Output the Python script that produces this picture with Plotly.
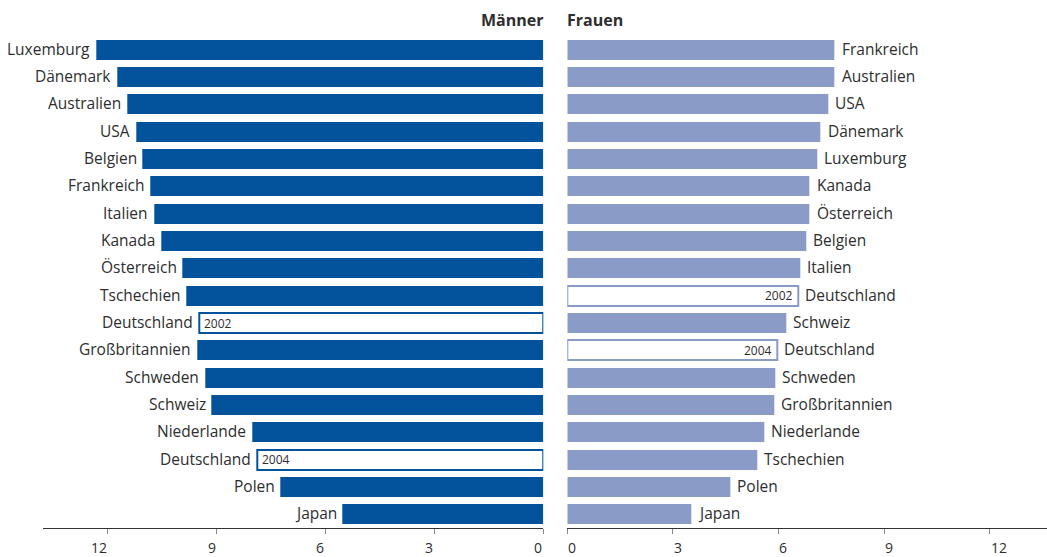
import plotly.graph_objects as go

# Männer (left panel), top to bottom
men_countries = ["Luxemburg", "Dänemark", "Australien", "USA", "Belgien", "Frankreich",
                 "Italien", "Kanada", "Österreich", "Tschechien", "Deutschland",
                 "Großbritannien", "Schweden", "Schweiz", "Niederlande", "Deutschland",
                 "Polen", "Japan"]
men_values = [12.32, 11.74, 11.47, 11.22, 11.03, 10.83, 10.72, 10.53, 9.93, 9.82, 9.47,
              9.54, 9.32, 9.13, 8.02, 7.88, 7.23, 5.53]
men_years = ["", "", "", "", "", "", "", "", "", "", "2002", "", "", "", "", "2004", "", ""]

# Frauen (right panel), top to bottom
women_countries = ["Frankreich", "Australien", "USA", "Dänemark", "Luxemburg", "Kanada",
                   "Österreich", "Belgien", "Italien", "Deutschland", "Schweiz",
                   "Deutschland", "Schweden", "Großbritannien", "Niederlande",
                   "Tschechien", "Polen", "Japan"]
women_values = [7.60, 7.60, 7.41, 7.20, 7.09, 6.89, 6.89, 6.78, 6.61, 6.56, 6.21, 5.97,
                5.90, 5.87, 5.59, 5.39, 4.62, 3.51]
women_years = ["", "", "", "", "", "", "", "", "", "2002", "", "2004", "", "", "", "", "", ""]

tick_values = [0, 3, 6, 9, 12]
tick_labels = ["0", "3", "6", "9", "12"]

DARK = "#03529c"
LIGHT = "#8a9bc8"
TEXT = "#2e2e2e"
FONT = "Open Sans"

W, H = 1047, 557
fig = go.Figure()


def bar_style(years, color):
    fills = ["white" if y else color for y in years]
    widths = [2 if y else 0 for y in years]
    return dict(color=fills, line=dict(color=color, width=widths))


men_rows = list(range(len(men_countries)))
women_rows = list(range(len(women_countries)))

fig.add_trace(go.Bar(x=men_values, y=men_rows, orientation="h", width=0.73,
                     marker=bar_style(men_years, DARK), xaxis="x", yaxis="y",
                     hoverinfo="skip", showlegend=False))
fig.add_trace(go.Bar(x=women_values, y=women_rows, orientation="h", width=0.73,
                     marker=bar_style(women_years, LIGHT), xaxis="x2", yaxis="y2",
                     hoverinfo="skip", showlegend=False))

ann = []
label_font = dict(family=FONT, size=15.5, color=TEXT)
year_font = dict(family=FONT, size=12, color=TEXT)
for r, (c, v, yr) in enumerate(zip(men_countries, men_values, men_years)):
    ann.append(dict(x=v, y=r, xref="x", yref="y", text=c, showarrow=False,
                    xanchor="right", yanchor="middle", xshift=-4, yshift=1, font=label_font))
    if yr:
        ann.append(dict(x=v, y=r, xref="x", yref="y", text=yr, showarrow=False,
                        xanchor="left", yanchor="middle", xshift=3, font=year_font))
for r, (c, v, yr) in enumerate(zip(women_countries, women_values, women_years)):
    ann.append(dict(x=v, y=r, xref="x2", yref="y2", text=c, showarrow=False,
                    xanchor="left", yanchor="middle", xshift=5, yshift=1, font=label_font))
    if yr:
        ann.append(dict(x=v, y=r, xref="x2", yref="y2", text=yr, showarrow=False,
                        xanchor="right", yanchor="middle", xshift=-3, font=year_font))

# axis numbers: right-aligned to the tick on the left, left-aligned on the right
tick_font = dict(family=FONT, size=14, color=TEXT)
for tv, tl in zip(tick_values, tick_labels):
    ann.append(dict(x=tv, y=0, xref="x", yref="paper", text=tl, showarrow=False,
                    xanchor="right", yanchor="middle", yshift=-19, xshift=1, font=tick_font))
    ann.append(dict(x=tv, y=0, xref="x2", yref="paper", text=tl, showarrow=False,
                    xanchor="left", yanchor="middle", yshift=-19, xshift=-1, font=tick_font))

# panel headers
head_font = dict(family=FONT, size=16, color=TEXT)
ann.append(dict(x=0, y=1, xref="x", yref="paper", text="<b>Männer</b>", showarrow=False,
                xanchor="right", yanchor="middle", yshift=16, xshift=3, font=head_font))
ann.append(dict(x=0, y=1, xref="x2", yref="paper", text="<b>Frauen</b>", showarrow=False,
                xanchor="left", yanchor="middle", yshift=16, xshift=-2, font=head_font))

axis_common = dict(showgrid=False, zeroline=False, showline=True, linecolor="#333333",
                   linewidth=1.3, ticks="outside", ticklen=5, tickcolor="#888888",
                   tickwidth=1, tickvals=tick_values, showticklabels=False, fixedrange=True)

fig.update_layout(
    width=W, height=H,
    margin=dict(l=0, r=0, t=36, b=29),
    paper_bgcolor="white", plot_bgcolor="white",
    bargap=0,
    xaxis=dict(domain=[43.3 / W, 543.3 / W], range=[13.77, 0], anchor="y", **axis_common),
    xaxis2=dict(domain=[567.3 / W, 1.0], range=[0, 13.63], anchor="y2", **axis_common),
    yaxis=dict(range=[len(men_rows) - 0.5, -0.5], visible=False, anchor="x", fixedrange=True),
    yaxis2=dict(range=[len(women_rows) - 0.5, -0.5], visible=False, anchor="x2", fixedrange=True),
    annotations=ann,
    font=dict(family=FONT, color=TEXT),
)

fig.write_html("out.html", config={"displayModeBar": False})
